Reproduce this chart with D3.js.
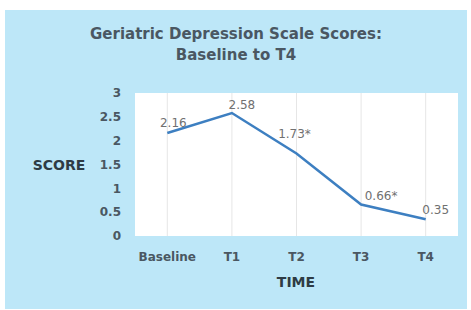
<!DOCTYPE html>
<html lang="en">
<head>
<meta charset="UTF-8"/>
<script src="https://d3js.org/d3.v7.min.js"></script>
<style>
    body { margin: 0; background: #fff; }
    text { font-family: "DejaVu Sans", Verdana, sans-serif; }
</style>
</head>
<body>
<div id="chart"></div>
<script>
    // data
    const categories = ["Baseline", "T1", "T2", "T3", "T4"];
    const scores = [2.16, 2.58, 1.73, 0.66, 0.35];
    const pointLabels = ["2.16", "2.58", "1.73*", "0.66*", "0.35"];
    const yTicks = [0, 0.5, 1, 1.5, 2, 2.5, 3];

    const W = 471, H = 310;
    const plot = {left: 135, right: 458, top: 93, bottom: 236};
    const textColor = "#4a5762";

    const svg = d3.select("#chart").append("svg")
        .attr("width", W).attr("height", H);

    // blue panel
    svg.append("rect").attr("x", 5).attr("y", 10).attr("width", 462).attr("height", 299)
        .attr("fill", "#bde7f8");

    // plot area
    svg.append("rect").attr("x", plot.left).attr("y", plot.top)
        .attr("width", plot.right - plot.left).attr("height", plot.bottom - plot.top)
        .attr("fill", "#ffffff");

    const x = d3.scalePoint().domain(categories)
        .range([plot.left, plot.right]).padding(0.5);
    const y = d3.scaleLinear().domain([0, 3]).range([plot.bottom, plot.top]);

    // vertical grid lines
    svg.append("g").selectAll("line").data(categories).join("line")
        .attr("x1", d => x(d)).attr("x2", d => x(d))
        .attr("y1", plot.top).attr("y2", plot.bottom)
        .attr("stroke", "#e6e6e6").attr("stroke-width", 1);

    // y axis labels
    svg.append("g").selectAll("text").data(yTicks).join("text")
        .attr("x", 121).attr("y", d => y(d)).attr("dy", "0.35em")
        .attr("text-anchor", "end")
        .attr("font-size", 12).attr("font-weight", "bold")
        .attr("fill", textColor).text(d => d);

    // x axis labels
    svg.append("g").selectAll("text").data(categories).join("text")
        .attr("x", d => x(d)).attr("y", 257).attr("dy", "0.35em")
        .attr("text-anchor", "middle")
        .attr("font-size", 12).attr("font-weight", "bold")
        .attr("fill", textColor).text(d => d);

    // the line
    const line = d3.line()
        .x((d, i) => x(categories[i]))
        .y(d => y(d));
    svg.append("path").datum(scores)
        .attr("fill", "none").attr("stroke", "#3d7fc1")
        .attr("stroke-width", 2.5).attr("d", line);

    // value labels
    const labelOffset = [[6, -6], [10, -4], [-2, -16], [20, -5], [10, -5]];
    svg.append("g").selectAll("text").data(scores).join("text")
        .attr("x", (d, i) => x(categories[i]) + labelOffset[i][0])
        .attr("y", (d, i) => y(d) + labelOffset[i][1])
        .attr("text-anchor", "middle")
        .attr("font-size", 12)
        .attr("fill", "#707070")
        .text((d, i) => pointLabels[i]);

    // titles
    svg.append("text").attr("x", 236).attr("y", 39)
        .attr("text-anchor", "middle").attr("font-size", 15).attr("font-weight", "bold")
        .attr("fill", textColor).text("Geriatric Depression Scale Scores:");
    svg.append("text").attr("x", 236).attr("y", 60)
        .attr("text-anchor", "middle").attr("font-size", 15).attr("font-weight", "bold")
        .attr("fill", textColor).text("Baseline to T4");

    svg.append("text").attr("x", 59).attr("y", 165).attr("dy", "0.35em")
        .attr("text-anchor", "middle").attr("font-size", 14).attr("font-weight", "bold")
        .attr("fill", "#2e3b44").text("SCORE");
    svg.append("text").attr("x", 296).attr("y", 282).attr("dy", "0.35em")
        .attr("text-anchor", "middle").attr("font-size", 14).attr("font-weight", "bold")
        .attr("fill", "#2e3b44").text("TIME");
</script>
</body>
</html>
